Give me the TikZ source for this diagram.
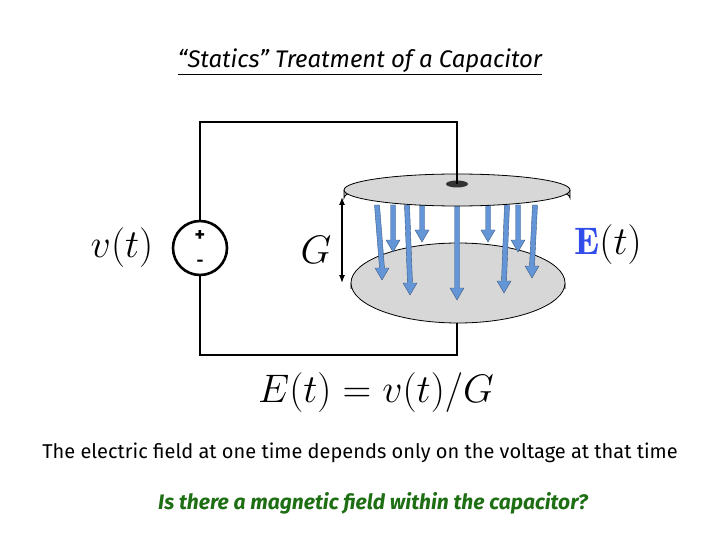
\documentclass[tikz,border=0pt]{standalone}
\usepackage{fontspec}
\usepackage{graphicx}
\setsansfont{Fira Sans}
\usetikzlibrary{arrows.meta}
\definecolor{arr}{RGB}{100,150,215}
\definecolor{plate}{RGB}{215,215,215}
\definecolor{qgreen}{RGB}{30,110,20}
\newcommand{\mybigmath}[1]{\scalebox{1.6}{#1}}
\begin{document}
\begin{tikzpicture}[x=1pt,y=-1pt,
  wire/.style={line width=2.6pt},
  efield/.style={draw=arr!60!black,fill=arr,line width=0.4pt},
  plt/.style={draw=black,line width=0.8pt,fill=plate},
  mth/.style={font=\fontsize{24}{24}\selectfont}]
\useasboundingbox (0,0) rectangle (720,540);
\node[font=\sffamily\itshape\fontsize{24}{28}\selectfont] (title) at (360,62) {\underline{“Statics” Treatment of a Capacitor}};
% circuit
\coordinate (tl) at (200,122); \coordinate (tr) at (457,122);
\coordinate (bl) at (200,355); \coordinate (br) at (457,355);
\node[draw,circle,wire,fill=white,minimum size=54pt,inner sep=0pt] (src) at (200,248) {};
\draw[wire] (src.north) -- (tl) -- (tr) -- (457,185);
\draw[wire] (src.south) -- (bl) -- (br) -- (457,320);
\node[font=\sffamily\bfseries\fontsize{20}{20}\selectfont] (plus) at (200,236) {+};
\node[font=\sffamily\bfseries\fontsize{17}{17}\selectfont] (minus) at (200,263) {-};
% bottom plate
\fill[plate!60!gray] (351,289) arc[start angle=180,end angle=360,x radius=107,y radius=40] -- (565,283) arc[start angle=0,end angle=-180,x radius=107,y radius=40] -- cycle;
\draw[line width=0.8pt] (351,283) -- (351,289) arc[start angle=180,end angle=360,x radius=107,y radius=40] -- (565,283);
\draw[plt] (458,283) ellipse[x radius=107,y radius=40];
% arrows
\foreach \xa/\xb/\yb in {377/382/280,393/393/252,407/410/295,422/422/242,457/457/300,488/488/242,507/504/293,518/518/252,535/532/278}{
  \draw[efield] (\xa-2.5,205) -- (\xb-2.5,\yb-12) -- (\xb-7,\yb-12) -- (\xb,\yb) -- (\xb+7,\yb-12) -- (\xb+2.5,\yb-12) -- (\xa+2.5,205) -- cycle;
}
% top plate
\fill[plate!60!gray] (344,190) arc[start angle=180,end angle=360,x radius=113,y radius=16] -- (570,198) arc[start angle=0,end angle=-180,x radius=113,y radius=16] -- cycle;
\draw[line width=0.8pt] (344,190) -- (344,198) arc[start angle=180,end angle=360,x radius=113,y radius=16] -- (570,190);
\draw[plt] (457,190) ellipse[x radius=113,y radius=16];
\fill[black!80] (457,184) ellipse[x radius=11,y radius=3.5];
\draw[wire] (457,160) -- (457,184);
% labels
\draw[{Latex[length=8pt]}-{Latex[length=8pt]},line width=1.2pt] (342,197) -- (342,283);
\node[mth] (G) at (316,250) {\mybigmath{$G$}};
\node[mth] (v) at (122,248) {\mybigmath{$v(t)$}};
\node[mth] (E) at (608,245) {\mybigmath{\textcolor{arr!50!blue}{$\mathbf{E}$}$(t)$}};
\node[mth] (eq) at (376,393) {\mybigmath{$E(t)=v(t)/G$}};
\node[font=\sffamily\fontsize{20}{24}\selectfont] (txt) at (360,453) {The electric field at one time depends only on the voltage at that time};
\node[font=\sffamily\bfseries\itshape\fontsize{21}{24}\selectfont,text=qgreen] (q) at (373,503) {Is there a magnetic field within the capacitor?};
\end{tikzpicture}
\end{document}
